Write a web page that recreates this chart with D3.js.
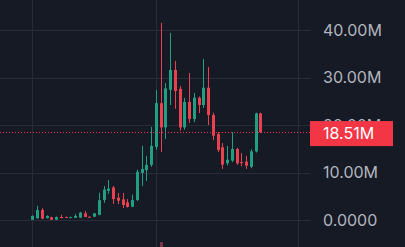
<!DOCTYPE html>
<meta charset="utf-8">
<script src="https://d3js.org/d3.v7.min.js"></script>
<style>
  body { margin: 0; background: #161a25; overflow: hidden; }
</style>
<div id="chart"></div>
<script>

// candle values, in millions
var opens  = [0.05, 0.35, 2.1, 0.4, 0.57, 0.05, 0.63, 0.65, 0.55, 0.45, 0.5, 1.4, 0.7, 0.7, 1.1, 4.2, 6.15, 6.85, 4.7, 4.35, 3.7, 2.8,
              4.2, 9.9, 10.5, 11.6, 15.4, 24.6, 19.5, 27.4, 31.6, 27.6, 19.5, 24.85, 21.25, 25.75, 24.2, 27.85, 22.1, 18.1, 15.3,
              11.95, 12.5, 14.95, 12.2, 12.3, 11.2, 14.45, 22.45]
var highs  = [1.0, 3.0, 2.5, 1.0, 0.7, 0.75, 1.1, 0.7, 0.7, 1.25, 1.7, 1.9, 0.75, 1.5, 5.75, 7.15, 8.4, 7.15, 5.7, 5.7, 4.4, 5.35,
              10.6, 15.6, 13.5, 19.6, 27.4, 41.5, 28.85, 39.4, 33.5, 28.2, 25.7, 30.95, 26.75, 26.0, 33.9, 32.2, 22.6, 18.5, 16.2,
              15.6, 18.5, 15.2, 14.1, 13.5, 14.9, 22.6, 22.6]
var lows   = [0.0, 0.3, 0.2, 0.3, 0.0, 0.0, 0.35, 0.5, 0.5, 0.4, 0.45, 0.6, 0.55, 0.6, 1.0, 3.6, 5.5, 3.35, 3.35, 2.5, 2.6, 2.7,
              4.0, 7.15, 8.2, 11.2, 14.8, 14.3, 17.05, 24.2, 23.4, 18.8, 19.0, 20.4, 20.6, 22.5, 23.6, 20.0, 16.85, 14.3, 10.75,
              11.5, 12.2, 11.6, 11.35, 10.75, 10.9, 14.2, 18.3]
var closes = [0.85, 2.1, 0.3, 0.85, 0.05, 0.63, 0.42, 0.55, 0.6, 0.85, 1.55, 0.65, 0.6, 1.4, 4.15, 6.4, 6.6, 4.4, 4.05, 3.15, 2.75, 4.2,
              10.15, 10.75, 11.6, 15.6, 24.6, 19.5, 27.7, 31.6, 27.15, 19.5, 24.85, 21.25, 25.75, 24.2, 27.85, 22.1, 17.75, 14.75, 11.65,
              12.7, 14.95, 11.95, 12.1, 11.45, 14.45, 22.45, 18.51]

var yTicks = [0, 10, 20, 30, 40]
var yTickLabels = ["0.0000", "10.00M", "20.00M", "30.00M", "40.00M"]
// candle positions of the time grid lines
var timeGrid = [0, 26, 56]
var lastLabel = "18.51M"

var width = 405, height = 247, plotRight = 310

var svg = d3.select("#chart")
  .append("svg")
  .attr("width", width)
  .attr("height", height)

svg.append("rect")
  .attr("width", width)
  .attr("height", height)
  .attr("fill", "#161a25")

var x = d3.scaleLinear()
  .domain([0, opens.length - 1])
  .range([32.3, 260.3])

var y = d3.scaleLinear()
  .domain([0, 40])
  .range([220, 30])

// grid
svg.selectAll(".hgrid")
  .data(yTicks)
  .enter()
  .append("line")
    .attr("x1", 0)
    .attr("x2", plotRight)
    .attr("y1", function(d) { return Math.round(y(d)) + 0.5 })
    .attr("y2", function(d) { return Math.round(y(d)) + 0.5 })
    .attr("stroke", "#282c38")

svg.selectAll(".vgrid")
  .data(timeGrid)
  .enter()
  .append("line")
    .attr("x1", function(d) { return Math.round(x(d)) + 0.5 })
    .attr("x2", function(d) { return Math.round(x(d)) + 0.5 })
    .attr("y1", 0)
    .attr("y2", height)
    .attr("stroke", "#282c38")

// candles
var idx = d3.range(opens.length)
function col(i) { return closes[i] >= opens[i] ? "#229e83" : "#e8414f" }

svg.selectAll(".wick")
  .data(idx)
  .enter()
  .append("line")
    .attr("x1", function(i) { return Math.round(x(i)) + 0.5 })
    .attr("x2", function(i) { return Math.round(x(i)) + 0.5 })
    .attr("y1", function(i) { return y(highs[i]) })
    .attr("y2", function(i) { return y(lows[i]) })
    .attr("stroke", col)
    .attr("stroke-width", 1)

svg.selectAll(".body")
  .data(idx)
  .enter()
  .append("rect")
    .attr("x", function(i) { return Math.round(x(i)) - 1 })
    .attr("width", 3)
    .attr("y", function(i) { return y(Math.max(opens[i], closes[i])) })
    .attr("height", function(i) { return Math.max(1, Math.abs(y(opens[i]) - y(closes[i]))) })
    .attr("fill", col)

// right price axis
var axis = svg.append("g")
  .attr("transform", "translate(" + plotRight + ",0)")
  .call(d3.axisRight(y)
    .tickValues(yTicks)
    .tickSize(0)
    .tickPadding(13)
    .tickFormat(function(d, i) { return yTickLabels[i] }))
axis.select(".domain").remove()
axis.selectAll("text")
  .attr("fill", "#b2b5be")
  .attr("font-family", "Inter, 'Noto Sans', sans-serif")
  .attr("font-size", 16)

// last price line + label (covers the 20.00M tick like the original)
var last = closes[closes.length - 1]
svg.append("line")
  .attr("x1", 0)
  .attr("x2", plotRight)
  .attr("y1", Math.round(y(last)) + 0.5)
  .attr("y2", Math.round(y(last)) + 0.5)
  .attr("stroke", "#f23645")
  .attr("stroke-dasharray", "1,2")

svg.append("rect")
  .attr("x", plotRight)
  .attr("y", y(last) - 11)
  .attr("width", 83)
  .attr("height", 25)
  .attr("fill", "#f23645")

svg.append("text")
  .attr("x", plotRight + 13)
  .attr("y", y(last) + 1.5)
  .attr("dy", "0.35em")
  .attr("fill", "#ffffff")
  .attr("font-family", "Inter, 'Noto Sans', sans-serif")
  .attr("font-size", 16)
  .text(lastLabel)

// small marker under the spike candle
svg.append("rect")
  .attr("x", Math.round(x(27)) - 1)
  .attr("y", height - 5)
  .attr("width", 3)
  .attr("height", 5)
  .attr("fill", "#7a3448")

</script>
